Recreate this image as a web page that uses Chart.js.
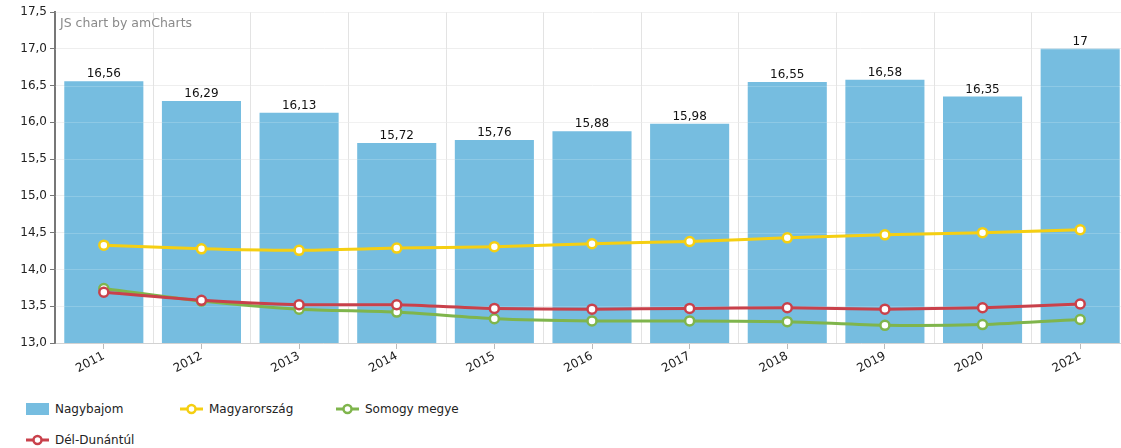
<!DOCTYPE html>
<html>
<head>
<meta charset="utf-8">
<script src="https://cdn.jsdelivr.net/npm/chart.js@4/dist/chart.umd.min.js"></script>
<style>
  html, body { margin: 0; padding: 0; background: #fff; overflow: hidden; }
  #wrap { position: relative; width: 1136px; height: 448px; font-family: "DejaVu Sans", Verdana, sans-serif; }
  #chartBox { position: absolute; left: 0; top: 0; width: 1136px; height: 385px; }
  #credit { position: absolute; left: 60px; top: 15px; font-size: 12.5px; color: #8a8a8a; }
  #legend { position: absolute; left: 26px; top: 401px; width: 700px; font-size: 12px; color: #222; }
  .item { position: absolute; display: flex; align-items: center; height: 16px; }
  .item span.lbl { margin-left: 6px; }
</style>
</head>
<body>
<div id="wrap">
  <div id="chartBox"><canvas id="chart"></canvas></div>
  <div id="credit">JS chart by amCharts</div>
  <div id="legend"></div>
</div>
<script>
// adatok
const years = ['2011','2012','2013','2014','2015','2016','2017','2018','2019','2020','2021'];
const nagybajom = [16.56, 16.29, 16.13, 15.72, 15.76, 15.88, 15.98, 16.55, 16.58, 16.35, 17];
const magyarorszag = [14.33, 14.28, 14.26, 14.29, 14.31, 14.35, 14.38, 14.43, 14.47, 14.50, 14.54];
const somogy = [13.74, 13.57, 13.46, 13.42, 13.33, 13.30, 13.30, 13.29, 13.24, 13.25, 13.32];
const delDunantul = [13.69, 13.58, 13.52, 13.52, 13.47, 13.46, 13.47, 13.48, 13.46, 13.48, 13.53];

const BLUE = '#76bde0', YELLOW = '#f5cf12', GREEN = '#7fb54c', RED = '#c9414b';

function fmt(v) { return String(v).replace('.', ','); }

function lineSet(label, data, color) {
    return {
        type: 'line', label: label, data: data,
        borderColor: color, borderWidth: 3,
        pointRadius: 4.5, pointBorderWidth: 2.5,
        pointBackgroundColor: '#fff', pointBorderColor: color,
        tension: 0.2, fill: false
    };
}

// rács a kategóriák határain + értékfeliratok
const extras = {
    id: 'extras',
    beforeDatasetsDraw(chart) {
        const ctx = chart.ctx, x = chart.scales.x, a = chart.chartArea;
        const half = (x.getPixelForValue(1) - x.getPixelForValue(0)) / 2;
        ctx.save();
        ctx.strokeStyle = '#e3e3e3';
        ctx.lineWidth = 1;
        for (let i = 0; i < years.length; i++) {
            const px = Math.round(x.getPixelForValue(i) + half) + 0.5;
            ctx.beginPath(); ctx.moveTo(px, a.top); ctx.lineTo(px, a.bottom); ctx.stroke();
        }
        ctx.restore();
    },
    afterDatasetDraw(chart, args) {
        if (args.index !== 0) return;
        const ctx = chart.ctx, y = chart.scales.y, a = chart.chartArea;
        ctx.save();
        ctx.strokeStyle = 'rgba(255,255,255,0.18)';
        ctx.lineWidth = 1;
        y.ticks.forEach(t => {
            const py = Math.round(y.getPixelForValue(t.value)) + 0.5;
            ctx.beginPath(); ctx.moveTo(a.left, py); ctx.lineTo(a.right, py); ctx.stroke();
        });
        ctx.fillStyle = '#111';
        ctx.font = '12px "DejaVu Sans", Verdana, sans-serif';
        ctx.textAlign = 'center';
        ctx.textBaseline = 'bottom';
        chart.getDatasetMeta(0).data.forEach((bar, i) => {
            ctx.fillText(fmt(nagybajom[i]), bar.x, bar.y - 1);
        });
        ctx.restore();
    }
};

new Chart(document.getElementById('chart').getContext('2d'), {
    data: {
        labels: years,
        datasets: [
            { type: 'bar', label: 'Nagybajom', data: nagybajom, backgroundColor: BLUE,
              barPercentage: 1, categoryPercentage: 0.81, order: 4 },
            Object.assign(lineSet('Magyarország', magyarorszag, YELLOW), { order: 1 }),
            Object.assign(lineSet('Somogy megye', somogy, GREEN), { order: 3 }),
            Object.assign(lineSet('Dél-Dunántúl', delDunantul, RED), { order: 2 })
        ]
    },
    options: {
        responsive: true,
        maintainAspectRatio: false,
        animation: false,
        layout: { padding: { top: 12, right: 2, left: 0, bottom: 0 } },
        plugins: { legend: { display: false }, tooltip: { enabled: false } },
        scales: {
            x: {
                offset: true,
                grid: { display: true, drawOnChartArea: false, offset: false, tickLength: 6, color: '#bbb' },
                border: { color: '#c8c8c8', width: 1 },
                ticks: {
                    color: '#222', minRotation: 28, maxRotation: 28, padding: 0,
                    font: { family: '"DejaVu Sans", Verdana, sans-serif', size: 12 }
                },
                afterFit(scale) { scale.height = 42; }
            },
            y: {
                min: 13, max: 17.5,
                grid: { color: '#eeeeee', tickLength: 5, tickColor: '#777' },
                border: { color: '#777', width: 2 },
                ticks: {
                    stepSize: 0.5, color: '#222', padding: 3,
                    font: { family: '"DejaVu Sans", Verdana, sans-serif', size: 12 },
                    callback: v => v.toFixed(1).replace('.', ',')
                },
                afterFit(scale) { scale.width = 55; }
            }
        }
    },
    plugins: [extras]
});

// jelmagyarázat
const legendItems = [
    { label: 'Nagybajom', color: BLUE, kind: 'box', x: 0, y: 0 },
    { label: 'Magyarország', color: YELLOW, kind: 'line', x: 154, y: 0 },
    { label: 'Somogy megye', color: GREEN, kind: 'line', x: 310, y: 0 },
    { label: 'Dél-Dunántúl', color: RED, kind: 'line', x: 0, y: 31 }
];
const legend = document.getElementById('legend');
legendItems.forEach(it => {
    const d = document.createElement('div');
    d.className = 'item';
    d.style.left = it.x + 'px';
    d.style.top = it.y + 'px';
    let icon;
    if (it.kind === 'box') {
        icon = `<span style="display:inline-block;width:23px;height:12px;background:${it.color}"></span>`;
    } else {
        icon = `<svg width="23" height="12"><line x1="0" y1="6" x2="23" y2="6" stroke="${it.color}" stroke-width="3"/>` +
               `<circle cx="11.5" cy="6" r="4" fill="#fff" stroke="${it.color}" stroke-width="2.5"/></svg>`;
    }
    d.innerHTML = icon + `<span class="lbl">${it.label}</span>`;
    legend.appendChild(d);
});
</script>
</body>
</html>
